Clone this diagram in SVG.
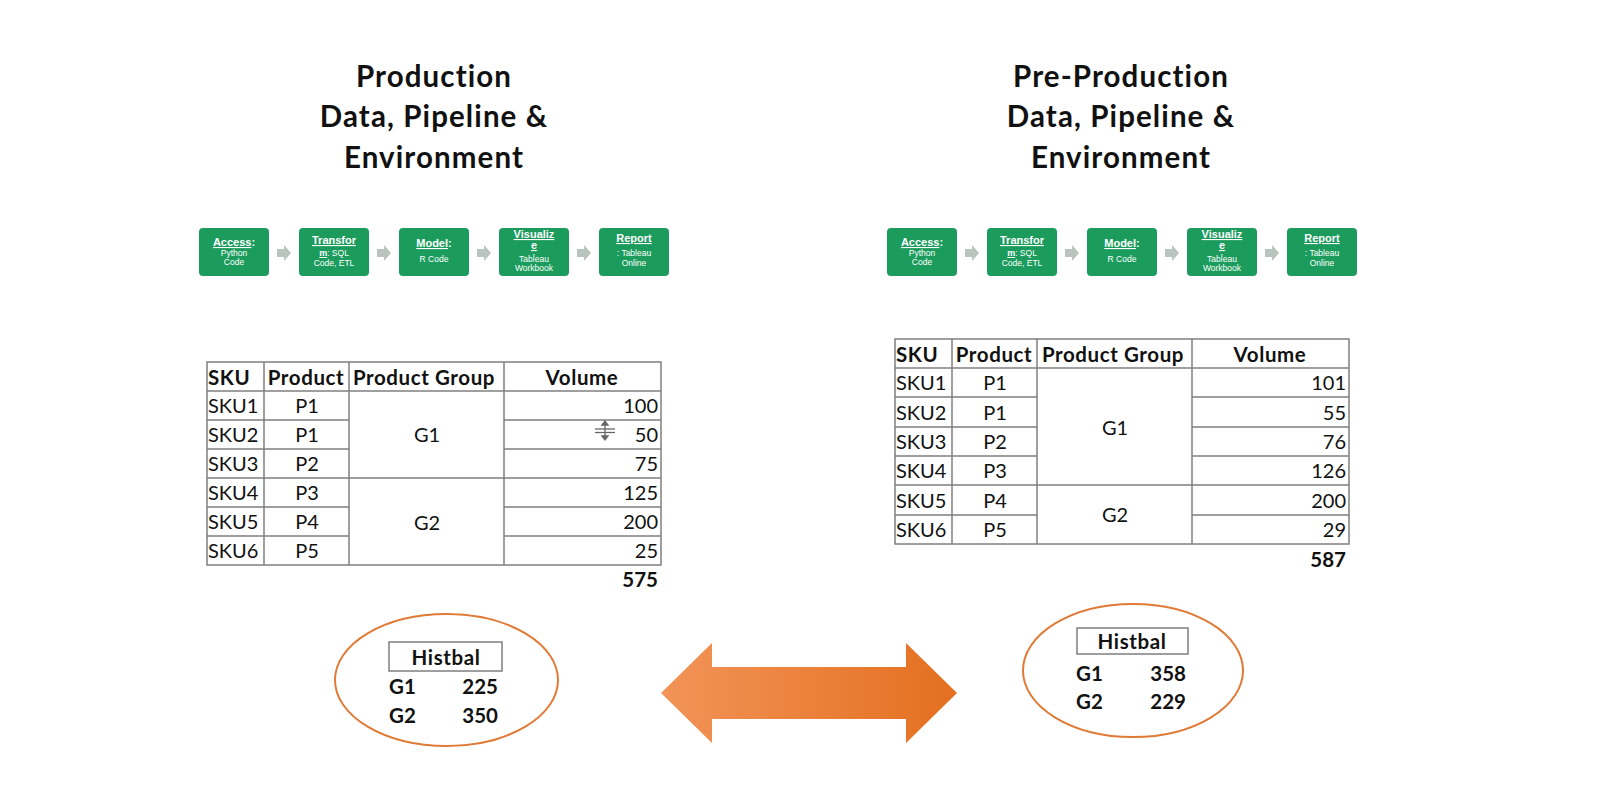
<svg xmlns="http://www.w3.org/2000/svg" width="1600" height="810" viewBox="0 0 1600 810">
<defs>
<linearGradient id="og" x1="661" y1="0" x2="957" y2="0" gradientUnits="userSpaceOnUse">
<stop offset="0" stop-color="#f29458"/>
<stop offset="1" stop-color="#e46f1f"/>
</linearGradient>
</defs>
<style>
.title{font-family:Lato,"Liberation Sans",sans-serif;font-weight:bold;font-size:29.5px;letter-spacing:1.1px;fill:#111;text-anchor:middle}
.box{fill:#1b9c5c}
.bh{font-family:"Liberation Sans",Arial,sans-serif;font-weight:bold;font-size:11px;fill:#fff;text-anchor:middle}
.bs{font-family:"Liberation Sans",Arial,sans-serif;font-size:8.5px;fill:#fff;text-anchor:middle}
.u{text-decoration:underline}
.pa{fill:#b9c4be}
.tb{fill:none;stroke:#7f7f7f;stroke-width:1.5}
.tl{stroke:#7f7f7f;stroke-width:1.5}
.t{font-family:Lato,"Liberation Sans",sans-serif;font-size:20px;fill:#111}
.th{font-family:Lato,"Liberation Sans",sans-serif;font-size:20.5px;font-weight:bold;fill:#111}
.hd{letter-spacing:0.6px}
.c{text-anchor:middle}
.r{text-anchor:end}
.ov{fill:none;stroke:#e07a35;stroke-width:2}
.hb{fill:none;stroke:#7f7f7f;stroke-width:1.5}
</style>
<rect width="1600" height="810" fill="#fff"/>

<g id="title-prod">
<text class="title" x="434" y="87">Production</text>
<text class="title" x="434" y="127">Data, Pipeline &amp;</text>
<text class="title" x="434" y="168">Environment</text>
</g>
<g id="title-preprod">
<text class="title" x="1121" y="87">Pre-Production</text>
<text class="title" x="1121" y="127">Data, Pipeline &amp;</text>
<text class="title" x="1121" y="168">Environment</text>
</g>

<!-- Production pipeline -->
<g id="p-access"><rect class="box" x="199" y="228" width="70" height="48" rx="4"/>
<text class="bh" x="234" y="246"><tspan class="u">Access</tspan>:</text>
<text class="bs" x="234" y="256">Python</text><text class="bs" x="234" y="265">Code</text></g>
<g id="p-transform"><rect class="box" x="299" y="228" width="70" height="48" rx="4"/>
<text class="bh u" x="334" y="244">Transfor</text>
<text class="bs" x="334" y="256"><tspan class="u" font-weight="bold" font-size="9">m</tspan>: SQL</text>
<text class="bs" x="334" y="266">Code, ETL</text></g>
<g id="p-model"><rect class="box" x="399" y="228" width="70" height="48" rx="4"/>
<text class="bh" x="434" y="247"><tspan class="u">Model</tspan>:</text>
<text class="bs" x="434" y="262">R Code</text></g>
<g id="p-visualize"><rect class="box" x="499" y="228" width="70" height="48" rx="4"/>
<text class="bh u" x="534" y="238">Visualiz</text>
<text class="bh" x="534" y="249"><tspan class="u">e</tspan></text>
<text class="bs" x="534" y="255">:</text>
<text class="bs" x="534" y="262">Tableau</text><text class="bs" x="534" y="271">Workbook</text></g>
<g id="p-report"><rect class="box" x="599" y="228" width="70" height="48" rx="4"/>
<text class="bh u" x="634" y="242">Report</text>
<text class="bs" x="634" y="256">: Tableau</text><text class="bs" x="634" y="266">Online</text></g>

<!-- Pre-Production pipeline -->
<g id="q-access"><rect class="box" x="887" y="228" width="70" height="48" rx="4"/>
<text class="bh" x="922" y="246"><tspan class="u">Access</tspan>:</text>
<text class="bs" x="922" y="256">Python</text><text class="bs" x="922" y="265">Code</text></g>
<g id="q-transform"><rect class="box" x="987" y="228" width="70" height="48" rx="4"/>
<text class="bh u" x="1022" y="244">Transfor</text>
<text class="bs" x="1022" y="256"><tspan class="u" font-weight="bold" font-size="9">m</tspan>: SQL</text>
<text class="bs" x="1022" y="266">Code, ETL</text></g>
<g id="q-model"><rect class="box" x="1087" y="228" width="70" height="48" rx="4"/>
<text class="bh" x="1122" y="247"><tspan class="u">Model</tspan>:</text>
<text class="bs" x="1122" y="262">R Code</text></g>
<g id="q-visualize"><rect class="box" x="1187" y="228" width="70" height="48" rx="4"/>
<text class="bh u" x="1222" y="238">Visualiz</text>
<text class="bh" x="1222" y="249"><tspan class="u">e</tspan></text>
<text class="bs" x="1222" y="255">:</text>
<text class="bs" x="1222" y="262">Tableau</text><text class="bs" x="1222" y="271">Workbook</text></g>
<g id="q-report"><rect class="box" x="1287" y="228" width="70" height="48" rx="4"/>
<text class="bh u" x="1322" y="242">Report</text>
<text class="bs" x="1322" y="256">: Tableau</text><text class="bs" x="1322" y="266">Online</text></g>

<g id="connectors">
<polygon class="pa" transform="translate(284 253)" points="-7,-4 0,-4 0,-8 7,0 0,8 0,4 -7,4"/>
<polygon class="pa" transform="translate(384 253)" points="-7,-4 0,-4 0,-8 7,0 0,8 0,4 -7,4"/>
<polygon class="pa" transform="translate(484 253)" points="-7,-4 0,-4 0,-8 7,0 0,8 0,4 -7,4"/>
<polygon class="pa" transform="translate(584 253)" points="-7,-4 0,-4 0,-8 7,0 0,8 0,4 -7,4"/>
<polygon class="pa" transform="translate(972 253)" points="-7,-4 0,-4 0,-8 7,0 0,8 0,4 -7,4"/>
<polygon class="pa" transform="translate(1072 253)" points="-7,-4 0,-4 0,-8 7,0 0,8 0,4 -7,4"/>
<polygon class="pa" transform="translate(1172 253)" points="-7,-4 0,-4 0,-8 7,0 0,8 0,4 -7,4"/>
<polygon class="pa" transform="translate(1272 253)" points="-7,-4 0,-4 0,-8 7,0 0,8 0,4 -7,4"/>
</g>

<!-- Production table -->
<g id="table-prod">
<rect class="tb" x="207" y="362" width="454" height="203"/>
<line class="tl" x1="264" y1="362" x2="264" y2="565"/>
<line class="tl" x1="349" y1="362" x2="349" y2="565"/>
<line class="tl" x1="504" y1="362" x2="504" y2="565"/>
<line class="tl" x1="207" y1="391" x2="661" y2="391"/>
<path class="tl" fill="none" d="M207 420H349M207 449H349M207 478H349M207 507H349M207 536H349M504 420H661M504 449H661M504 478H661M504 507H661M504 536H661M349 478H504"/>
<text class="th hd" x="208" y="385">SKU</text>
<text class="th hd c" x="306" y="385">Product</text>
<text class="th hd c" x="424" y="385">Product Group</text>
<text class="th hd c" x="582" y="385">Volume</text>
<text class="t" x="208" y="413">SKU1</text><text class="t c" x="307" y="413">P1</text><text class="t r" x="658" y="413">100</text>
<text class="t" x="208" y="442">SKU2</text><text class="t c" x="307" y="442">P1</text><text class="t r" x="658" y="442">50</text>
<text class="t" x="208" y="471">SKU3</text><text class="t c" x="307" y="471">P2</text><text class="t r" x="658" y="471">75</text>
<text class="t" x="208" y="500">SKU4</text><text class="t c" x="307" y="500">P3</text><text class="t r" x="658" y="500">125</text>
<text class="t" x="208" y="529">SKU5</text><text class="t c" x="307" y="529">P4</text><text class="t r" x="658" y="529">200</text>
<text class="t" x="208" y="558">SKU6</text><text class="t c" x="307" y="558">P5</text><text class="t r" x="658" y="558">25</text>
<text class="t c" x="427" y="442">G1</text>
<text class="t c" x="427" y="530">G2</text>
<text class="th r" x="658" y="587">575</text>
<g stroke="#666" stroke-width="1.3" fill="#666">
<line x1="595" y1="429" x2="615" y2="429"/><line x1="595" y1="432.5" x2="615" y2="432.5"/>
<line x1="605" y1="423" x2="605" y2="438"/>
<polygon points="602,425 605,421 608,425"/><polygon points="602,436 605,440 608,436"/>
</g>
</g>

<!-- Pre-Production table -->
<g id="table-preprod">
<rect class="tb" x="895" y="339" width="454" height="205"/>
<line class="tl" x1="952" y1="339" x2="952" y2="544"/>
<line class="tl" x1="1037" y1="339" x2="1037" y2="544"/>
<line class="tl" x1="1192" y1="339" x2="1192" y2="544"/>
<line class="tl" x1="895" y1="368" x2="1349" y2="368"/>
<path class="tl" fill="none" d="M895 397H1037M895 427H1037M895 456H1037M895 485H1037M895 515H1037M1192 397H1349M1192 427H1349M1192 456H1349M1192 485H1349M1192 515H1349M1037 485H1192"/>
<text class="th hd" x="896" y="362">SKU</text>
<text class="th hd c" x="994" y="362">Product</text>
<text class="th hd c" x="1113" y="362">Product Group</text>
<text class="th hd c" x="1270" y="362">Volume</text>
<text class="t" x="896" y="390">SKU1</text><text class="t c" x="995" y="390">P1</text><text class="t r" x="1346" y="390">101</text>
<text class="t" x="896" y="420">SKU2</text><text class="t c" x="995" y="420">P1</text><text class="t r" x="1346" y="420">55</text>
<text class="t" x="896" y="449">SKU3</text><text class="t c" x="995" y="449">P2</text><text class="t r" x="1346" y="449">76</text>
<text class="t" x="896" y="478">SKU4</text><text class="t c" x="995" y="478">P3</text><text class="t r" x="1346" y="478">126</text>
<text class="t" x="896" y="508">SKU5</text><text class="t c" x="995" y="508">P4</text><text class="t r" x="1346" y="508">200</text>
<text class="t" x="896" y="537">SKU6</text><text class="t c" x="995" y="537">P5</text><text class="t r" x="1346" y="537">29</text>
<text class="t c" x="1115" y="435">G1</text>
<text class="t c" x="1115" y="522">G2</text>
<text class="th r" x="1346" y="567">587</text>
</g>

<!-- Histbal ovals -->
<g id="histbal-prod">
<ellipse class="ov" cx="446.5" cy="680" rx="111.5" ry="66"/>
<rect class="hb" x="389" y="642" width="113" height="29"/>
<text class="th hd c" x="446" y="665">Histbal</text>
<text class="th" x="389" y="694">G1</text><text class="th r" x="498" y="694">225</text>
<text class="th" x="389" y="723">G2</text><text class="th r" x="498" y="723">350</text>
</g>
<g id="histbal-preprod">
<ellipse class="ov" cx="1133" cy="670.5" rx="110" ry="66.5"/>
<rect class="hb" x="1077" y="628" width="111" height="26"/>
<text class="th hd c" x="1132" y="649">Histbal</text>
<text class="th" x="1076" y="681">G1</text><text class="th r" x="1186" y="681">358</text>
<text class="th" x="1076" y="709">G2</text><text class="th r" x="1186" y="709">229</text>
</g>

<g id="double-arrow">
<polygon fill="url(#og)" points="661,693 712,643 712,667 906,667 906,643 957,693 906,743 906,719 712,719 712,743"/>
</g>
</svg>
